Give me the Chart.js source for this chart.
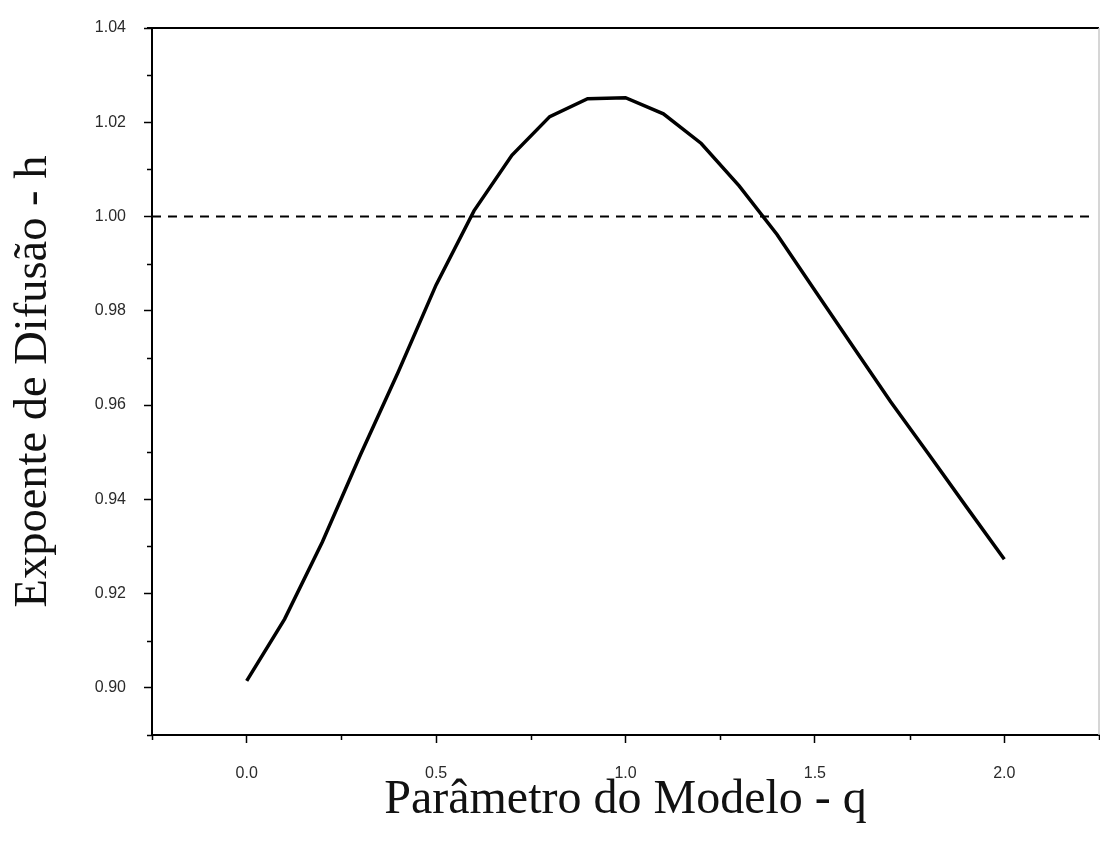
<!DOCTYPE html>
<html>
<head>
<meta charset="utf-8">
<title>Expoente de Difusão</title>
<script src="https://cdn.jsdelivr.net/npm/chart.js@4/dist/chart.umd.min.js"></script>
<style>
  html, body { margin: 0; padding: 0; background: #fff; }
  #wrap { width: 1100px; height: 841px; }
</style>
</head>
<body>
<div id="wrap"><canvas id="hChart" width="1100" height="841"></canvas></div>
<script>
// model parameter q and the diffusion exponent h
const qValues = [0.0, 0.1, 0.2, 0.3, 0.4, 0.5, 0.6, 0.7, 0.8, 0.9, 1.0,
                 1.1, 1.2, 1.3, 1.4, 1.5, 1.6, 1.7, 1.8, 1.9, 2.0];
const hValues = [0.9015, 0.9146, 0.9310, 0.9494, 0.9670, 0.9855, 1.0012, 1.0130, 1.0212, 1.0250, 1.0252,
                 1.0218, 1.0155, 1.0065, 0.9962, 0.9843, 0.9725, 0.9607, 0.9496, 0.9384, 0.9273];

// reference level h = 1
const refLevel = 1.0;
const refSpan = [-0.25, 2.23];

// axis ticks
const xTicks = [0.0, 0.5, 1.0, 1.5, 2.0];
const xMinorTicks = [-0.25, 0.25, 0.75, 1.25, 1.75, 2.25];
const yTicks = [0.90, 0.92, 0.94, 0.96, 0.98, 1.00, 1.02, 1.04];
const yMinorTicks = [0.89, 0.91, 0.93, 0.95, 0.97, 0.99, 1.01, 1.03];

const tickFont = { family: '"Liberation Sans", Arial, sans-serif', size: 16 };
const serif = '"Liberation Serif", "Times New Roman", serif';

// small outward ticks between the labelled ones, plus the frame on top/right
const frameAndMinorTicks = {
    id: 'frameAndMinorTicks',
    afterDraw(chart) {
        const ctx = chart.ctx;
        const area = chart.chartArea;
        const x = chart.scales.x;
        const y = chart.scales.y;
        ctx.save();
        ctx.strokeStyle = '#000';
        ctx.lineWidth = 1.5;
        ctx.beginPath();
        xMinorTicks.forEach(v => {
            const px = Math.round(x.getPixelForValue(v)) + 0.5;
            ctx.moveTo(px, area.bottom);
            ctx.lineTo(px, area.bottom + 5);
        });
        yMinorTicks.forEach(v => {
            const py = Math.round(y.getPixelForValue(v)) + 0.5;
            ctx.moveTo(area.left, py);
            ctx.lineTo(area.left - 5, py);
        });
        ctx.stroke();

        // top border
        ctx.lineWidth = 2;
        ctx.beginPath();
        ctx.moveTo(area.left - 5, area.top);
        ctx.lineTo(area.right, area.top);
        ctx.stroke();
        // right border is much lighter
        ctx.strokeStyle = '#c8c8c8';
        ctx.lineWidth = 1.5;
        ctx.beginPath();
        ctx.moveTo(area.right, area.top);
        ctx.lineTo(area.right, area.bottom);
        ctx.stroke();
        ctx.restore();
    }
};

const ctx = document.getElementById('hChart').getContext('2d');
const hChart = new Chart(ctx, {
    type: 'line',
    data: {
        datasets: [{
            label: 'h(q)',
            data: qValues.map((q, i) => ({ x: q, y: hValues[i] })),
            borderColor: '#000',
            borderWidth: 3.5,
            pointRadius: 0,
            tension: 0,
            fill: false
        }, {
            label: 'h = 1',
            data: refSpan.map(q => ({ x: q, y: refLevel })),
            borderColor: '#000',
            borderWidth: 2,
            borderDash: [9, 7],
            pointRadius: 0,
            fill: false
        }]
    },
    options: {
        responsive: false,
        animation: false,
        layout: { padding: { top: 28, right: 1, left: 0, bottom: 0 } },
        plugins: {
            legend: { display: false },
            tooltip: { enabled: false }
        },
        scales: {
            x: {
                type: 'linear',
                min: -0.25,
                max: 2.25,
                afterBuildTicks: scale => { scale.ticks = xTicks.map(v => ({ value: v })); },
                afterFit: scale => { scale.height = 106; },
                border: { color: '#000', width: 2 },
                grid: { drawOnChartArea: false, drawTicks: true, tickLength: 8, tickColor: '#000', tickWidth: 1.5 },
                ticks: {
                    color: '#2a2a2a',
                    padding: 21,
                    font: tickFont,
                    callback: v => Number(v).toFixed(1)
                },
                title: {
                    display: true,
                    text: 'Parâmetro do Modelo - q',
                    color: '#111',
                    padding: { top: 0, bottom: 12 },
                    font: { family: serif, size: 48 }
                }
            },
            y: {
                type: 'linear',
                min: 0.89,
                max: 1.04,
                afterBuildTicks: scale => { scale.ticks = yTicks.map(v => ({ value: v })); },
                afterFit: scale => { scale.width = 152; },
                border: { color: '#000', width: 2 },
                grid: { drawOnChartArea: false, drawTicks: true, tickLength: 8, tickColor: '#000', tickWidth: 1.5 },
                ticks: {
                    color: '#2a2a2a',
                    padding: 18,
                    font: tickFont,
                    callback: v => Number(v).toFixed(2)
                },
                title: {
                    display: true,
                    text: 'Expoente de Difusão - h',
                    color: '#111',
                    padding: { top: 6, bottom: 0 },
                    font: { family: serif, size: 46.5 }
                }
            }
        }
    },
    plugins: [frameAndMinorTicks]
});
</script>
</body>
</html>
